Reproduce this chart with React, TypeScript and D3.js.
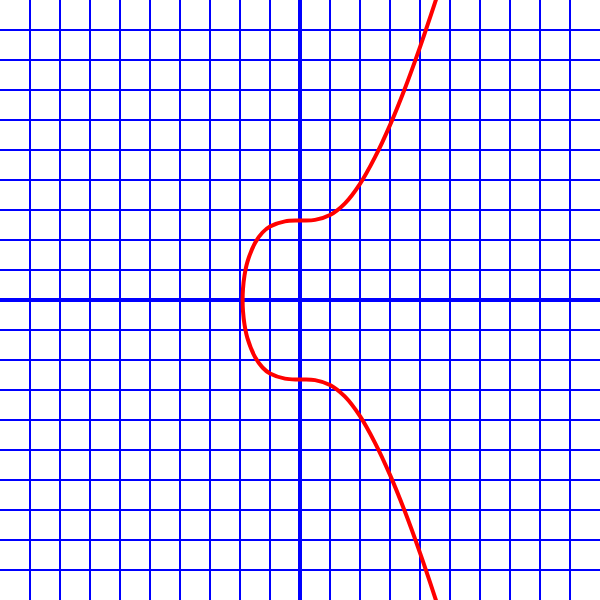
import { useEffect, useRef } from "react";
import * as d3 from "d3";

// upper branch of the curve (grid units, 1 unit = 1 cell)
const branchX = [-1.913, -1.9, -1.85, -1.75, -1.5, -1.25, -1, -0.5, 0, 0.5, 1, 1.5, 2, 2.5, 3, 3.5, 4, 4.5, 4.7];
const branchY = [0, 0.375, 0.817, 1.28, 1.9, 2.25, 2.45, 2.62, 2.65, 2.67, 2.83, 3.22, 3.87, 4.76, 5.83, 7.06, 8.43, 9.91, 10.53];

// grid lines every unit, axes at 0
const gridValues = [-9, -8, -7, -6, -5, -4, -3, -2, -1, 1, 2, 3, 4, 5, 6, 7, 8, 9];

export default function App() {
  const ref = useRef<SVGSVGElement>(null);

  useEffect(() => {
    if (!ref.current) return;
    const width = 600;
    const height = 600;
    const svg = d3.select(ref.current);
    svg.selectAll("*").remove();

    const x = d3.scaleLinear().domain([-10, 10]).range([0, width]);
    const y = d3.scaleLinear().domain([-10, 10]).range([height, 0]);

    svg.append("rect").attr("width", width).attr("height", height).attr("fill", "#ffffff");

    // grid
    const grid = svg.append("g").attr("stroke", "#0000ff").attr("stroke-width", 2);
    grid
      .selectAll(".vline")
      .data(gridValues)
      .enter()
      .append("line")
      .attr("x1", (d) => x(d))
      .attr("x2", (d) => x(d))
      .attr("y1", 0)
      .attr("y2", height);
    grid
      .selectAll(".hline")
      .data(gridValues)
      .enter()
      .append("line")
      .attr("y1", (d) => y(d))
      .attr("y2", (d) => y(d))
      .attr("x1", 0)
      .attr("x2", width);

    // axes
    svg
      .append("line")
      .attr("x1", x(0))
      .attr("x2", x(0))
      .attr("y1", 0)
      .attr("y2", height)
      .attr("stroke", "#0000ff")
      .attr("stroke-width", 4);
    svg
      .append("line")
      .attr("x1", 0)
      .attr("x2", width)
      .attr("y1", y(0))
      .attr("y2", y(0))
      .attr("stroke", "#0000ff")
      .attr("stroke-width", 4);

    // curve: lower branch (mirrored) then upper branch
    const upper = branchX.map((bx, i) => [bx, branchY[i]] as [number, number]);
    const lower = upper
      .slice(1)
      .map(([bx, by]) => [bx, -by] as [number, number])
      .reverse();
    const pts = [...lower, ...upper];

    const line = d3
      .line<[number, number]>()
      .x((d) => x(d[0]))
      .y((d) => y(d[1]))
      .curve(d3.curveCatmullRom.alpha(0.5));

    svg
      .append("path")
      .attr("d", line(pts))
      .attr("fill", "none")
      .attr("stroke", "#ff0000")
      .attr("stroke-width", 4)
      .attr("stroke-linejoin", "round");
  }, []);

  return (
    <svg
      ref={ref}
      width={600}
      height={600}
      style={{ position: "fixed", left: 0, top: 0, display: "block" }}
    />
  );
}
